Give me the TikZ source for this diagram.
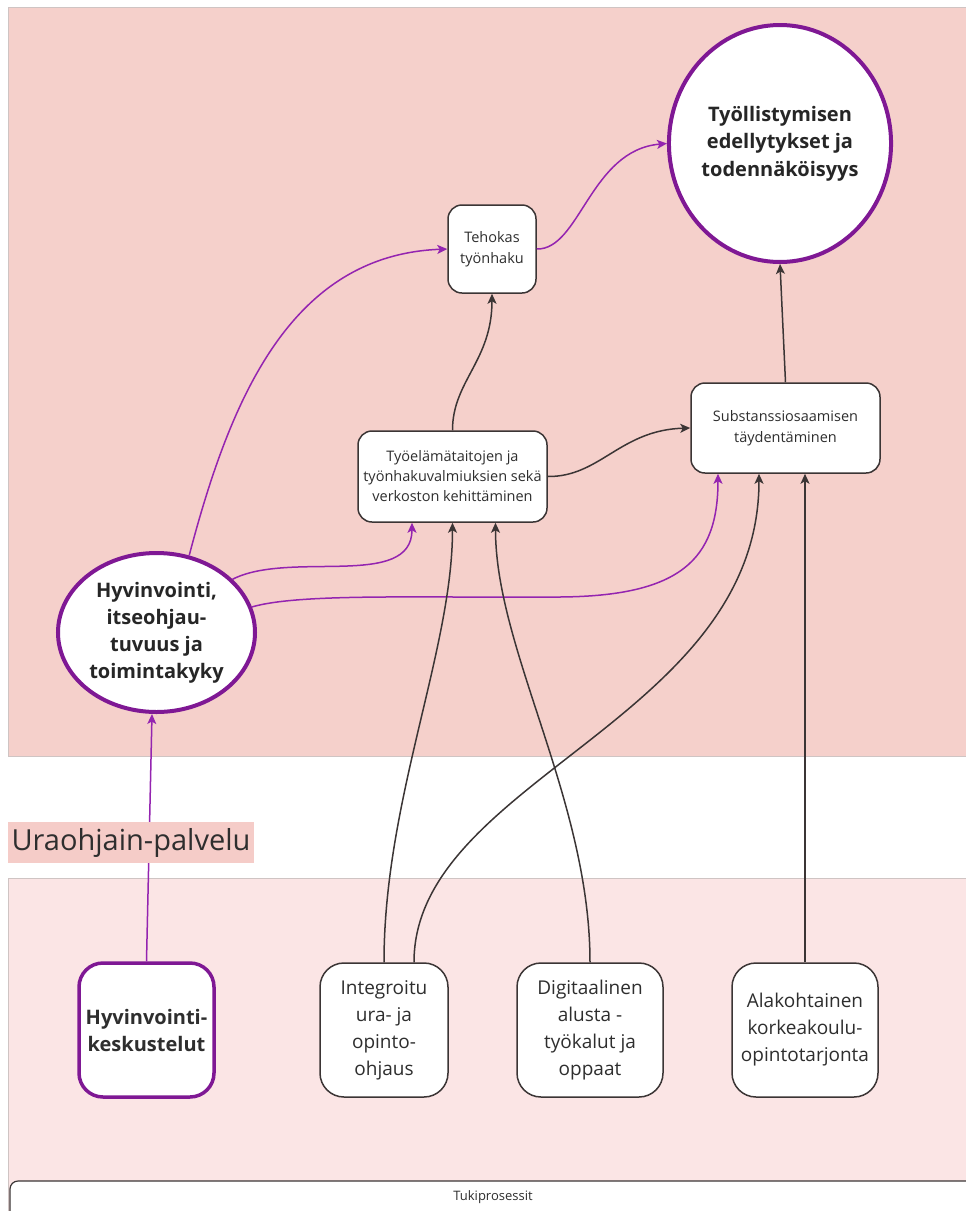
\documentclass[tikz,border=0pt]{standalone}
\usepackage{fontspec}
\setmainfont{Open Sans}
\usetikzlibrary{shapes.geometric,arrows.meta}
\definecolor{bandtop}{HTML}{F5D0CB}
\definecolor{bandbot}{HTML}{FBE5E5}
\definecolor{bandedge}{HTML}{CFC4C3}
\definecolor{uralbl}{HTML}{F5CCC8}
\definecolor{pline}{HTML}{7F1894}
\definecolor{parrow}{HTML}{9424B0}
\definecolor{dline}{HTML}{3B3535}
\definecolor{txt}{HTML}{2E2E2E}
\begin{document}
\begin{tikzpicture}[x=1pt,y=-1pt,
  smallbox/.style={draw=dline, line width=1.5pt, fill=white, rounded corners=14pt, inner sep=0pt, align=center, text=txt, font=\fontsize{14.5}{21}\selectfont},
  bigbox/.style={draw=dline, line width=1.5pt, fill=white, rounded corners=24pt, inner sep=0pt, align=center, text=txt, minimum height=134pt, font=\fontsize{19}{27}\selectfont},
  goalell/.style={ellipse, draw=pline, line width=4pt, fill=white, inner sep=0pt, align=center, text=black!85, font=\bfseries\fontsize{20}{27.5}\selectfont},
  darr/.style={draw=dline, line width=1.5pt, -{Stealth[length=10pt,width=9pt,inset=2.5pt]}},
  parr/.style={draw=parrow, line width=1.5pt, -{Stealth[length=10pt,width=9pt,inset=2.5pt]}},
  band/.style={draw=bandedge, line width=0.8pt}
]
\useasboundingbox (0,0) rectangle (966,1211);
\clip (0,0) rectangle (966,1211);
\fill[white] (0,0) rectangle (966,1211);
% background bands
\path[band, fill=bandtop] (8,7) rectangle (975,756);
\path[band, fill=bandbot] (8,878) rectangle (975,1230);
\draw[dline, line width=1.2pt, fill=white, rounded corners=8pt] (10,1181) rectangle (990,1250);
\node[font=\fontsize{13}{15}\selectfont, text=txt] (tuki) at (493,1197) {Tukiprosessit};

% nodes
\node[goalell, minimum width=222pt, minimum height=237pt] (goal) at (780,143.5) {Työllistymisen\\edellytykset ja\\todennäköisyys};
\node[smallbox, minimum width=88pt, minimum height=88pt] (teh) at (492,249) {Tehokas\\työnhaku};
\node[smallbox, minimum width=189pt, minimum height=91pt, font=\fontsize{14.5}{20}\selectfont] (tyo) at (452.5,476.5) {Työelämätaitojen ja\\työnhakuvalmiuksien sekä\\verkoston kehittäminen};
\node[smallbox, minimum width=189pt, minimum height=90pt] (sub) at (785.5,428) {Substanssiosaamisen\\täydentäminen};
\node[goalell, minimum width=197pt, minimum height=159pt, font=\bfseries\fontsize{20}{27}\selectfont] (hyv) at (156.5,632.5) {Hyvinvointi,\\itseohjau-\\tuvuus ja\\toimintakyky};
\node[bigbox, draw=pline, line width=3.5pt, minimum width=135pt, font=\bfseries\fontsize{20}{27}\selectfont] (hk) at (146.5,1030) {Hyvinvointi-\\keskustelut};
\node[bigbox, minimum width=128pt] (int) at (384,1030) {Integroitu\\ura- ja\\opinto-\\ohjaus};
\node[bigbox, minimum width=146pt] (dig) at (590,1030) {Digitaalinen\\alusta -\\työkalut ja\\oppaat};
\node[bigbox, minimum width=146pt] (ala) at (805,1030) {Alakohtainen\\korkeakoulu-\\opintotarjonta};

% connectors
\draw[parr] (teh.east) .. controls (580,250) and (590,150) .. (goal.west);
\draw[parr] (hyv.67) .. controls (230,400) and (290,255) .. (teh.west);
\draw[parr] (hyv.35) .. controls (290,550) and (412,590) .. ([xshift=-40.5pt]tyo.south);
\draw[parr] (hyv.15) .. controls (300,593) and (420,598) .. (560,597) .. controls (680,596) and (718,560) .. ([xshift=-67.5pt]sub.south);
\draw[darr] (tyo.north) .. controls (452.5,381) and (492,361) .. (teh.south);
\draw[darr] (tyo.east) .. controls (600,477) and (620,430) .. (sub.west);
\draw[darr] (sub.north) -- (goal.south);
\draw[darr] (int.north) .. controls (384,800) and (452.5,650) .. (tyo.south);
\draw[darr] (dig.north) .. controls (590,800) and (495.5,650) .. ([xshift=43pt]tyo.south);
\draw[darr] ([xshift=30pt]int.north) .. controls (414,780) and (759,720) .. ([xshift=-26.5pt]sub.south);
\draw[darr] (ala.north) -- ([xshift=19.5pt]sub.south);
\draw[parr] (hk.north) -- ([xshift=-4.5pt]hyv.south);

% label over the line
\node[fill=uralbl, inner sep=0pt, minimum width=246pt, minimum height=41pt, font=\fontsize{29}{33}\selectfont, text=txt] (ura) at (131,842.5) {Uraohjain-palvelu};
\end{tikzpicture}
\end{document}
